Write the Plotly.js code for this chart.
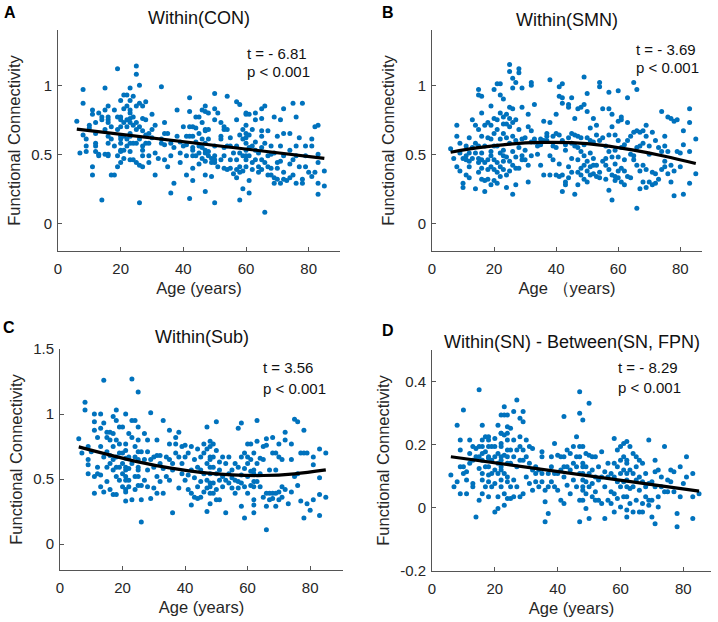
<!DOCTYPE html>
<html><head><meta charset="utf-8">
<script src="https://cdn.plot.ly/plotly-3.0.1.min.js"></script>
<style>html,body{margin:0;padding:0;background:#fff}#plot{width:718px;height:622px}</style>
</head><body><div id="plot"></div>
<script>
// ---- Data: [age, [functional connectivity values at that age]] ----
const groupsA = [
[6,[0.74]],[7,[0.51]],[8,[0.97,0.87,0.64]],[9,[0.56,0.52,0.61]],[10,[0.71,0.69]],
[11,[0.82,0.79,0.41,0.35]],[12,[0.73,0.58,0.65,0.56,0.52]],[13,[0.80,0.50,0.49]],[14,[0.17,0.77,0.75]],
[15,[0.98,0.82,0.68,0.50]],[16,[0.85,0.75,0.58,0.50,0.77,0.73,0.63,0.49]],[17,[0.70,0.61,0.35]],
[18,[0.35,0.82,0.56]],[19,[1.12,0.77,0.68,0.49,0.41]],[20,[0.89,0.75,0.70,0.61,0.52,0.44,0.77,0.63,0.58,0.53]],
[21,[0.93,0.83,0.73,0.63,0.53,0.47]],[22,[0.93,0.85,0.75,0.70,0.61,0.56]],
[23,[0.98,0.82,0.76,0.65,0.58,0.52,0.89,0.80,0.73,0.63,0.46]],[24,[0.92,0.77,0.71,0.58,0.46]],
[25,[1.14,1.08,0.85,0.73,0.68,0.58,0.44]],[26,[1.00,0.87,0.70,0.61,0.42,0.15]],
[27,[0.85,0.56,0.49,0.41,0.76,0.67,0.53]],[28,[0.88,0.75,0.64,0.58]],[29,[0.65,0.58,0.49,0.44]],
[30,[0.79,0.68,0.62]],[31,[0.71,0.51,0.35]],[32,[0.47]],[33,[0.99,0.61,0.58]],[34,[0.73,0.65,0.57,0.46]],
[35,[0.65,0.41]],[36,[0.58,0.49,0.22]],[37,[0.29,0.55]],[38,[0.82,0.63]],[39,[0.51,0.59,0.44]],
[40,[0.70,0.56]],[41,[0.63,0.49,0.35,0.57]],[42,[0.91,0.81,0.70,0.63,0.18]],
[43,[0.55,0.49,0.31,0.70,0.63,0.53,0.40]],[44,[0.77,0.69,0.59,0.49]],[45,[0.77,0.65,0.56,0.51,0.43]],
[46,[0.82,0.73,0.61,0.55,0.47]],[47,[0.81,0.68,0.58,0.53,0.35,0.23,0.85,0.67,0.51,0.45]],
[48,[0.80,0.68,0.61,0.52,0.49]],[49,[0.44,0.34,0.47]],[50,[0.94,0.83,0.75,0.49,0.44,0.15,0.56,0.46]],
[51,[0.80,0.41]],[52,[0.73,0.61,0.46,0.63]],[53,[0.70,0.55,0.49,0.68,0.40]],[54,[0.92,0.68,0.56,0.39]],
[55,[0.62,0.56,0.46,0.40]],[56,[0.36,0.51]],[57,[0.88,0.75,0.56,0.46,0.39,0.33]],[58,[0.86,0.64,0.17,0.41,0.37,0.51]],
[59,[0.68,0.61,0.49,0.38,0.25]],[60,[0.80,0.62,0.53,0.49,0.41,0.79,0.71,0.65,0.58,0.46]],
[61,[0.79,0.64,0.55,0.49,0.31,0.22]],[62,[0.68,0.56,0.44,0.39]],[63,[0.80,0.75,0.59,0.53,0.46]],
[64,[0.51,0.41,0.37]],[65,[0.83,0.76,0.67,0.63,0.55,0.46,0.39]],[66,[0.85,0.58,0.44,0.08]],
[67,[0.67,0.49,0.35,0.41]],[68,[0.56,0.50,0.40,0.35]],[69,[0.77,0.51,0.33,0.29]],[70,[0.63,0.40,0.32,0.44]],
[71,[0.75,0.56,0.45,0.29]],[72,[0.83,0.65,0.49,0.37,0.32]],[73,[0.31]],[74,[0.65,0.53,0.43,0.33]],
[75,[0.87,0.46,0.35]],[76,[0.77,0.56,0.49,0.29]],[77,[0.62,0.41]],[78,[0.87,0.29,0.32]],
[79,[0.56,0.49,0.41]],[80,[0.37]],[81,[0.34,0.61,0.56]],[82,[0.37,0.70]],[83,[0.21,0.29,0.50,0.44,0.71]],[85,[0.38,0.27]]
];
const groupsB = [
[6,[0.54]],[7,[0.47]],[8,[0.71,0.63,0.41]],[9,[0.58,0.51,0.38]],[10,[0.47,0.29,0.26]],
[11,[0.56,0.49,0.46,0.35]],[12,[0.62,0.51,0.45,0.41,0.33]],[13,[0.75,0.55,0.47]],[14,[0.71,0.58,0.51,0.25]],
[15,[0.97,0.93,0.68,0.56,0.47,0.44,0.37]],[16,[0.92,0.80,0.63,0.51,0.46,0.40,0.32]],[17,[0.71,0.56,0.44,0.31,0.23]],
[18,[0.73,0.62,0.46,0.39,0.32]],[19,[0.85,0.71,0.61,0.52,0.49,0.41,0.28]],[20,[0.97,0.76,0.65,0.56,0.46,0.39,0.31]],
[21,[1.01,0.75,0.68,0.56,0.44,0.37,0.29]],[22,[1.01,0.80,0.61,0.51,0.41,0.34,0.93]],
[23,[0.77,0.65,0.53,0.49,0.39,0.90,0.72,0.45]],[24,[0.79,0.72,0.62,0.48,0.35,0.26]],
[25,[1.15,1.10,0.84,0.76,0.70,0.58,0.45,0.38]],[26,[1.05,0.98,0.83,0.73,0.63,0.52,0.42,0.21]],
[27,[1.02,0.75,0.60,0.48,0.40,0.28]],[28,[1.12,1.09,0.68,0.55,0.40]],[29,[0.98,0.84,0.61,0.49,0.46]],
[30,[0.62,0.53,0.46]],[31,[0.79,0.70,0.42,0.30]],[32,[1.02,1.00,0.67,0.59,0.49]],[33,[0.86,0.61,0.59]],
[34,[0.56,0.50]],[35,[0.61,0.57,0.42]],[36,[0.74,0.60,0.35]],[37,[0.65,0.63,0.60]],[38,[1.04,0.73,0.49,0.35]],
[39,[0.63,0.56,0.46]],[40,[0.79,0.65,0.55,0.35]],[41,[0.99,0.92,0.64,0.43,0.34]],[42,[1.01,0.91,0.87,0.60,0.35,0.23]],
[43,[0.57,0.53,0.30,0.28]],[44,[0.86,0.84,0.62,0.41,0.33]],[45,[0.91,0.65,0.58,0.47,0.37]],[46,[0.76,0.64,0.56,0.21]],
[47,[0.83,0.63,0.55,0.46,0.37,0.28]],[48,[0.84,0.62,0.52,0.35,0.40]],[49,[1.06,0.86,0.57,0.49,0.42,0.32]],
[50,[0.94,0.81,0.62,0.45,0.38,0.30]],[51,[0.69,0.60,0.51,0.41,0.35]],[52,[0.76,0.59,0.47,0.42,0.36]],
[53,[0.71,0.64,0.42,0.34]],[54,[1.02,0.99,0.60,0.37,0.33]],[55,[0.83,0.62,0.45]],[56,[0.56,0.47,0.42,0.32]],
[57,[0.95,0.83,0.64,0.52,0.39,0.24]],[58,[0.79,0.70,0.48,0.35,0.17]],[59,[0.64,0.53,0.43,0.34,0.31]],
[60,[0.96,0.74,0.60,0.48,0.38,0.33]],[61,[0.77,0.75,0.55,0.40,0.30]],[62,[0.57,0.46,0.38,0.28]],
[63,[0.91,0.73,0.60,0.34]],[64,[0.63,0.50,0.33]],[65,[1.02,0.66,0.49,0.46]],[66,[0.97,0.67,0.55,0.42,0.11]],
[67,[0.66,0.56,0.38,0.25]],[68,[0.67,0.58,0.42,0.30]],[69,[0.71,0.63,0.39,0.26]],[70,[0.56,0.50,0.30]],
[71,[0.66,0.37,0.28]],[72,[0.60,0.36,0.29]],[73,[0.55,0.32]],[74,[0.81,0.52,0.39]],[75,[0.63,0.56,0.45,0.41]],
[76,[0.77,0.52,0.36]],[77,[0.76,0.42,0.30]],[78,[0.74,0.38,0.20]],[79,[0.75,0.52]],[80,[0.51,0.41]],
[81,[0.67,0.57,0.21]],[83,[0.83,0.73,0.52,0.29]],[85,[0.61,0.36]]
];
const groupsC = [
[6,[0.81]],[7,[0.70]],[8,[1.09,1.03]],[9,[0.65,0.61,0.75,0.54]],[10,[0.71]],
[11,[1.00,0.94,0.875,0.52,0.39]],[12,[0.82,0.59,0.54]],[13,[1.00,0.89,0.75,0.53,0.44]],[14,[1.26,0.93,0.67,0.40]],
[15,[0.86,0.82,0.71,0.59,0.48]],[16,[0.86,0.80,0.68,0.62,0.42]],[17,[0.98,0.85,0.75,0.65,0.57,0.38]],
[18,[1.03,0.95,0.80,0.67,0.59,0.52,0.38]],[19,[0.90,0.77,0.70,0.59,0.49]],[20,[0.90,0.70,0.62,0.54,0.44]],
[21,[1.00,0.72,0.57,0.49,0.42,0.33,0.77,0.66,0.59,0.52,0.40]],[22,[0.85,0.67,0.58,0.49,0.44]],
[23,[1.27,0.95,0.82,0.62,0.34]],[24,[0.95,0.75,0.67,0.52,0.42]],[25,[1.17,0.90,0.71,0.59,0.45,0.80,0.65,0.57,0.52]],
[26,[0.34,0.17,0.71,0.45]],[27,[0.85,0.65,0.49]],[28,[0.80,0.71,0.57,0.44]],[29,[1.01,0.65,0.35]],
[30,[0.67,0.59,0.43]],[31,[0.80,0.68,0.52,0.39]],[32,[0.68,0.62,0.48]],[33,[0.95,0.39,0.58]],[34,[0.67,0.52]],
[35,[0.875,0.77,0.65,0.49]],[36,[0.24,0.62,0.57]],[37,[0.82,0.77,0.70]],[38,[0.86,0.67,0.43]],[39,[0.75,0.62,0.54]],
[40,[0.76,0.67,0.49]],[41,[0.70,0.53,0.42]],[42,[0.75,0.57,0.39,0.30]],[43,[0.65,0.51,0.36]],[44,[0.73,0.59,0.44,0.35]],
[45,[0.67,0.57,0.48,0.36]],[46,[0.77,0.70,0.54,0.40]],[47,[0.90,0.73,0.62,0.49,0.43,0.25]],
[48,[0.79,0.67,0.59,0.47,0.39,0.75,0.65,0.54,0.44,0.31]],[49,[0.77,0.67,0.59,0.47,0.39]],
[50,[0.94,0.72,0.54,0.42,0.34]],[51,[0.63,0.57,0.49,0.34]],[52,[0.67,0.52,0.44]],[53,[0.62,0.49,0.24]],
[54,[0.67,0.54,0.47]],[55,[0.57,0.51,0.43]],[56,[0.62,0.49,0.39]],[57,[0.89,0.59,0.48,0.43]],
[58,[0.93,0.67,0.53,0.47,0.29]],[59,[0.70,0.58,0.44,0.20]],[60,[0.77,0.67,0.62,0.52,0.39]],
[61,[0.77,0.65,0.56,0.45]],[62,[0.70,0.54,0.44,0.34,0.57,0.48,0.30,0.24]],[63,[0.95,0.79,0.62,0.48]],
[64,[0.66,0.54,0.44]],[65,[0.75,0.65,0.36]],[66,[0.81,0.76,0.39,0.29,0.11]],[67,[0.57,0.39,0.34]],
[68,[0.82,0.70,0.39,0.35]],[69,[0.70,0.57,0.39,0.29]],[70,[0.77,0.67,0.40,0.34]],[71,[0.65,0.44,0.36]],
[72,[0.86,0.80,0.42]],[73,[0.31]],[74,[0.77,0.65,0.40]],[75,[0.96,0.52]],[76,[0.94,0.54,0.45]],[77,[0.70,0.33]],
[78,[0.875,0.70,0.20]],[79,[0.70,0.31]],[80,[0.26]],[81,[0.67,0.61,0.34]],[83,[0.73,0.51,0.22,0.38]],[85,[0.70,0.36]]
];
const groupsD = [
[6,[0.104]],[7,[0.067]],[8,[0.262,0.083]],[9,[0.215,0.183,0.13,0.045]],[10,[0.31,0.13,0.109]],
[11,[0.114,0.088,0.045]],[12,[0.215,0.172,0.141]],[13,[0.194,0.151,0.077,0.067]],[14,[0.188,0.162,-0.029]],
[15,[0.374,0.194,0.162,0.125,0.024]],[16,[0.194,0.172,0.088,0.045,0.262,0.215,0.151,0.109]],
[17,[0.225,0.178,0.13,0.067]],[18,[0.225,0.194,0.157,0.104,0.035,0.215,0.162,0.13,0.083]],
[19,[0.194,0.151,0.109,0.067]],[20,[0.22,0.194,0.162,0.12,0.077,-0.013]],[21,[0.262,0.172,0.141,0.109,0.035,-0.002]],
[22,[0.236,0.204,0.162,0.13,0.088,0.294,0.236,0.194,0.151,0.12,0.067]],[23,[0.32,0.294,0.231,0.167,0.109,0.045,0.008]],
[24,[0.294,0.236,0.183,0.141,0.083,0.257,0.215,0.162,0.098,0.03]],[25,[0.252,0.183,0.141,0.067,0.03]],
[26,[0.305,0.215,0.162,0.088,0.035]],[27,[0.342,0.183,0.13,0.067]],[28,[0.284,0.225,0.194,0.151,0.035]],
[29,[0.305,0.273,0.183,0.151,0.045]],[30,[0.215,0.162,0.098]],[31,[0.194,0.141,0.077]],[32,[0.188,0.12,0.056]],
[33,[0.13,0.109,0.083]],[34,[0.12,0.067]],[35,[0.178,0.162,0.109,0.083]],[36,[0.056,0.019,-0.044]],
[37,[0.109,0.067,-0.018]],[38,[0.162,0.13,0.083]],[39,[0.204,0.109,0.067]],[40,[0.167,0.109,0.056]],
[41,[0.162,0.12,0.024]],[42,[0.289,0.162,0.13,0.098,0.014]],[43,[0.183,0.13,0.072]],[44,[0.172,0.12,0.045]],
[45,[0.194,0.141,0.088]],[46,[0.225,0.162,0.13,0.067]],[47,[0.368,0.3,0.194,0.162,0.109,0.024,-0.044]],
[48,[0.278,0.13,0.088,0.056,0.194,0.141,0.109,0.067,0.024]],[49,[0.172,0.13,0.083,0.045,-0.002]],
[50,[0.331,0.167,0.109,0.067,-0.034]],[51,[0.162,0.12,0.077,0.035]],[52,[0.162,0.098,0.051,0.024]],
[53,[0.13,0.088,0.024]],[54,[0.178,0.098,0.014]],[55,[0.114,0.067,-0.034]],[56,[0.141,0.098,0.024]],
[57,[0.109,0.051,0.014]],[58,[0.22,0.141,0.098,0.045,-0.013]],[59,[0.183,0.13,0.083,0.03]],
[60,[0.194,0.151,0.109,0.067,0.003]],[61,[0.204,0.162,0.12,0.083,0.035]],
[62,[0.21,0.151,0.109,0.067,-0.007,0.141,0.088,0.035,-0.029]],[63,[0.194,0.12,0.061,0.014]],
[64,[0.172,0.109,0.067,-0.013]],[65,[0.162,0.13,0.088,0.024]],[66,[0.151,0.098,0.056,-0.013]],
[67,[0.141,0.083,0.014,-0.013]],[68,[0.109,0.067,0.035]],[69,[0.215,0.077,0.024,0.008]],[70,[0.083,0.024,-0.029]],
[71,[0.151,0.114,0.067,-0.05]],[72,[0.12,0.035,0.003]],[73,[0.067,0.098]],[74,[0.194,0.051]],[75,[0.088,0.051]],
[76,[0.12,0.083]],[77,[0.114,0.051]],[78,[-0.018,-0.06]],[79,[0.13,0.035]],[80,[0.077]],[81,[0.162,0.098]],
[83,[0.109,0.035,-0.034]],[85,[0.045]]
];
// fitted curves
const fitAgeA = [6, 85];                       const fitA = [0.683, 0.471];
const fitAgeB = [6,15,25,35,45,55,65,75,85];   const fitB = [0.515,0.548,0.574,0.586,0.584,0.565,0.530,0.486,0.433];
const fitAgeC = [6,15,25,35,45,55,65,75,85];   const fitC = [0.747,0.690,0.632,0.585,0.551,0.532,0.527,0.540,0.570];
const fitAgeD = [6, 85];                       const fitD = [0.162, 0.053];
const panelTitles = ['Within(CON)','Within(SMN)','Within(Sub)','Within(SN) - Between(SN, FPN)'];
const xTitles = ['Age (years)','Age （years)','Age (years)','Age (years)'];
const tStats = ['t = - 6.81','t = - 3.69','t = 3.56','t = - 8.29'];
const pStats = ['p &lt; 0.001','p &lt; 0.001','p &lt; 0.001','p &lt; 0.001'];
const letters = ['A','B','C','D'];

function flat(groups){const x=[],y=[];groups.forEach(g=>g[1].forEach(v=>{x.push(g[0]);y.push(v);}));return {x,y};}
const blue='#0072BD';
const groups=[groupsA,groupsB,groupsC,groupsD];
const fits=[[fitAgeA,fitA],[fitAgeB,fitB],[fitAgeC,fitC],[fitAgeD,fitD]];
const traces=[];
groups.forEach((g,i)=>{
  const s=flat(g); const xa=i?'x'+(i+1):'x', ya=i?'y'+(i+1):'y';
  traces.push({type:'scatter',mode:'markers',x:s.x,y:s.y,xaxis:xa,yaxis:ya,
    marker:{color:blue,size:5},hoverinfo:'skip',showlegend:false});
  traces.push({type:'scatter',mode:'lines',x:fits[i][0],y:fits[i][1],xaxis:xa,yaxis:ya,
    line:{color:'#000',width:3.2,shape:'spline'},hoverinfo:'skip',showlegend:false});
});
const W=718,H=622;
const F='Liberation Sans, Arial, sans-serif';
const tf={family:F,size:15,color:'#262626'};
function xax(dom,rng,title,anchor){return {domain:dom,range:rng,anchor:anchor,tickvals:[0,20,40,60,80],
  showline:true,linecolor:'#555',linewidth:1,ticks:'inside',ticklen:4,tickcolor:'#555',showgrid:false,zeroline:false,
  ticklabelstandoff:4,
  tickfont:tf,title:{text:title,font:{family:F,size:16.5,color:'#262626'},standoff:6}};}
function yax(dom,rng,tv,tt,anchor){return {domain:dom,range:rng,anchor:anchor,tickvals:tv,ticktext:tt,
  showline:true,linecolor:'#555',linewidth:1,ticks:'inside',ticklen:4,tickcolor:'#555',showgrid:false,zeroline:false,
  ticklabelstandoff:2,
  tickfont:tf,title:{text:'Functional Connectivity',font:{family:F,size:16.5,color:'#262626'},standoff:6}};}
const px=v=>v/W, py=v=>1-v/H;
const dom=[[[58,340],[30,251]],[[432,702],[30,251]],[[60,343],[349,570]],[[432,711],[350,571]]];
const xr=[[0,90],[0,87],[0,90.5],[0,88.8]];
const yr=[[-0.2,1.4],[-0.2,1.4],[-0.2,1.5],[-0.2,0.5]];
const ytv=[[0,0.5,1],[0,0.5,1],[0,0.5,1,1.5],[-0.2,0,0.2,0.4]];
const ytt=[['0','0.5','1'],['0','0.5','1'],['0','0.5','1','1.5'],['-0.2','0','0.2','0.4']];
const layout={width:W,height:H,margin:{l:0,r:0,t:0,b:0},paper_bgcolor:'#fff',plot_bgcolor:'rgba(0,0,0,0)',
  font:{family:F},showlegend:false,annotations:[]};
for(let i=0;i<4;i++){
  const n=i?String(i+1):'';
  layout['xaxis'+n]=xax([px(dom[i][0][0]),px(dom[i][0][1])],xr[i],xTitles[i],'y'+n);
  layout['yaxis'+n]=yax([py(dom[i][1][1]),py(dom[i][1][0])],yr[i],ytv[i],ytt[i],'x'+n);
}
const titleY=[18,20,337,342], titleX=[199,567,201.5,571.5];
const letterPos=[[10,12],[388,12],[9,328],[388,330]];
const tPos=[[245,53,72],[634,50,67],[261,367,388],[616,367,387]];
for(let i=0;i<4;i++){
  layout.annotations.push({text:panelTitles[i],xref:'paper',yref:'paper',x:px(titleX[i]),y:py(titleY[i]),
    xanchor:'center',yanchor:'middle',showarrow:false,font:{family:F,size:18,color:'#111'}});
  layout.annotations.push({text:'<b>'+letters[i]+'</b>',xref:'paper',yref:'paper',x:px(letterPos[i][0]),y:py(letterPos[i][1]),
    xanchor:'center',yanchor:'middle',showarrow:false,font:{family:F,size:16,color:'#000'}});
  layout.annotations.push({text:tStats[i],xref:'paper',yref:'paper',x:px(tPos[i][0]),y:py(tPos[i][1]),
    xanchor:'left',yanchor:'middle',showarrow:false,font:{family:F,size:15,color:'#111'}});
  layout.annotations.push({text:pStats[i],xref:'paper',yref:'paper',x:px(tPos[i][0]),y:py(tPos[i][2]),
    xanchor:'left',yanchor:'middle',showarrow:false,font:{family:F,size:15,color:'#111'}});
}
Plotly.newPlot('plot',traces,layout,{staticPlot:true,displayModeBar:false});
</script></body></html>
